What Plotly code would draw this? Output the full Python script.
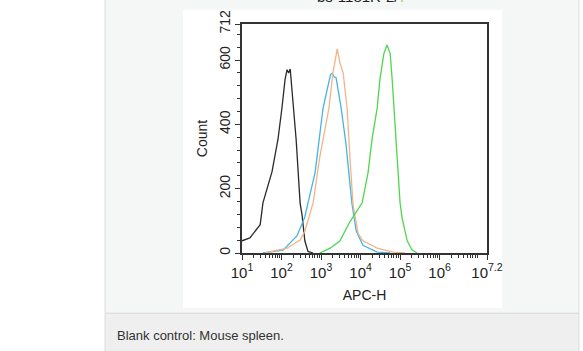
import numpy as np
import plotly.graph_objects as go

# ---- data (log10 of APC-H, count) ----
black_logx = [1.0, 1.2, 1.46, 1.53, 1.76, 1.91, 2.01, 2.09, 2.14, 2.18, 2.22, 2.27, 2.34, 2.37, 2.47, 2.52, 2.59, 2.67, 2.8]
black_cnt  = [38, 47, 88, 156, 253, 353, 450, 540, 570, 560, 572, 500, 400, 353, 156, 118, 38, 5, 0]

blue_logx = [1.53, 2.04, 2.39, 2.59, 2.67, 2.85, 3.05, 3.18, 3.24, 3.28, 3.33, 3.38, 3.51, 3.63, 3.78, 3.89, 4.06, 4.42, 4.75]
blue_cnt  = [0, 9, 53, 112, 156, 250, 450, 530, 555, 559, 548, 545, 450, 340, 156, 68, 24, 3, 0]

orange_logx = [1.58, 2.14, 2.47, 2.59, 2.8, 2.97, 3.2, 3.3, 3.41, 3.48, 3.56, 3.66, 3.73, 3.81, 3.94, 4.06, 4.42, 4.82, 5.13]
orange_cnt  = [0, 15, 40, 68, 156, 300, 450, 560, 635, 590, 560, 450, 300, 150, 60, 38, 15, 3, 0]

green_logx = [2.97, 3.23, 3.48, 3.73, 4.04, 4.19, 4.29, 4.42, 4.49, 4.59, 4.67, 4.75, 4.8, 4.87, 5.0, 5.05, 5.18, 5.3, 5.43]
green_cnt  = [0, 15, 38, 97, 156, 250, 353, 450, 540, 620, 647, 620, 540, 400, 156, 110, 38, 10, 0]

x_tickvals_log = [1, 2, 3, 4, 5, 6, 7.2]
x_ticktext = ["10<sup>1</sup>", "10<sup>2</sup>", "10<sup>3</sup>", "10<sup>4</sup>",
              "10<sup>5</sup>", "10<sup>6</sup>", "10<sup>7.2</sup>"]
y_tickvals = [0, 200, 400, 600, 712]
y_ticktext = ["0", "200", "400", "600", "712"]

series = [
    ("black", black_logx, black_cnt, "#2a2a2a"),
    ("blue", blue_logx, blue_cnt, "#45b4e4"),
    ("orange", orange_logx, orange_cnt, "#f2b487"),
    ("green", green_logx, green_cnt, "#4fd64f"),
]

W, H = 583, 351
L, R, T, B = 242, 487, 10, 253

fig = go.Figure()
for name, lx, cnt, col in series:
    fig.add_trace(go.Scatter(x=10 ** np.array(lx), y=cnt, mode="lines", name=name,
                             line=dict(color=col, width=1.3), showlegend=False))

minor_vals = [m * 10 ** k for k in range(1, 8) for m in range(2, 10) if m * 10 ** k < 10 ** 7.2]

fig.update_xaxes(type="log", range=[1, 7.2], tickvals=[10 ** v for v in x_tickvals_log],
                 ticktext=x_ticktext, ticks="outside", ticklen=5, tickwidth=1.2, tickcolor="#333",
                 showline=True, linecolor="#333", linewidth=1.5, mirror=True, showgrid=False,
                 zeroline=False, ticklabeloverflow="allow",
                 tickfont=dict(family="Liberation Sans, Arial", size=15, color="#222"),
                 minor=dict(tickvals=minor_vals, ticks="outside", ticklen=3, tickcolor="#333", showgrid=False),
                 title=dict(text="APC-H", font=dict(family="Liberation Sans, Arial", size=14, color="#222"),
                            standoff=10))
fig.update_yaxes(range=[0, 712], tickvals=y_tickvals, ticktext=y_ticktext, tickangle=-90,
                 ticks="outside", ticklen=5, tickwidth=1.2, tickcolor="#333",
                 showline=True, linecolor="#333", linewidth=1.5, mirror=True, showgrid=False,
                 zeroline=False, ticklabeloverflow="allow",
                 tickfont=dict(family="Liberation Sans, Arial", size=14, color="#222"),
                 minor=dict(dtick=40, ticks="outside", ticklen=3, tickcolor="#333", showgrid=False),
                 title=dict(text="Count", font=dict(family="Liberation Sans, Arial", size=14, color="#222"),
                            standoff=6))

shapes = [
    # page panel
    dict(type="rect", xref="paper", yref="paper", x0=(105 - L) / (R - L), x1=(579 - L) / (R - L),
         y0=(B - 317) / (B - T), y1=(B + 0) / (B - T) + 0.2, fillcolor="#f5f6f6",
         line=dict(color="#dcdcdc", width=1), layer="below"),
    # caption area
    dict(type="rect", xref="paper", yref="paper", x0=(105 - L) / (R - L), x1=(579 - L) / (R - L),
         y0=(B - 360) / (B - T), y1=(B - 317) / (B - T), fillcolor="#eeefee",
         line=dict(color="#dcdcdc", width=1), layer="below"),
    # white image
    dict(type="rect", xref="paper", yref="paper", x0=(183 - L) / (R - L), x1=(502 - L) / (R - L),
         y0=(B - 311) / (B - T), y1=(B + 5) / (B - T), fillcolor="white",
         line=dict(width=0), layer="below"),
]

annotations = [
    dict(text="Blank control: Mouse spleen.", xref="paper", yref="paper",
         x=(115 - L) / (R - L), y=(B - 341) / (B - T), xanchor="left", yanchor="middle",
         showarrow=False, font=dict(family="Liberation Sans, Arial", size=13, color="#333")),
    dict(text="bs-1181R-2/<span style='color:#9ad84a'>7</span>", xref="paper", yref="paper",
         x=(362 - L) / (R - L), y=(B + 8) / (B - T), xanchor="center", yanchor="bottom",
         showarrow=False, font=dict(family="Liberation Sans, Arial", size=15, color="#222")),
]

fig.update_layout(width=W, height=H, autosize=False,
                  margin=dict(l=L, r=W - R, t=T, b=H - B),
                  paper_bgcolor="white", plot_bgcolor="white",
                  shapes=shapes, annotations=annotations)

fig.write_html("out.html", config={"displayModeBar": False})
